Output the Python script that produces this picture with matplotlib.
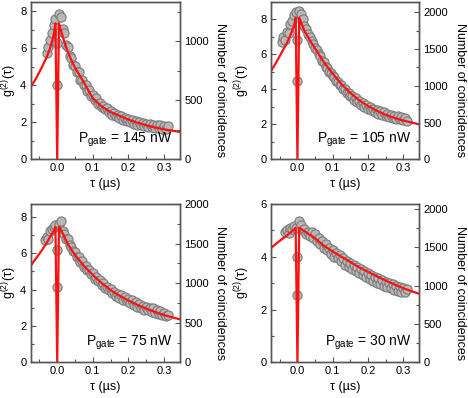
import numpy as np
import matplotlib
matplotlib.use("Agg")
import matplotlib.pyplot as plt
from matplotlib.ticker import MultipleLocator

plt.rcParams['font.family'] = ['Liberation Sans', 'DejaVu Sans']
plt.rcParams['mathtext.fontset'] = 'custom'
plt.rcParams['mathtext.rm'] = 'Liberation Sans'
plt.rcParams['mathtext.it'] = 'Liberation Sans:italic'

nan = float('nan')

# ---- data -----------------------------------------------------------
tau = [-0.045, -0.040, -0.035, -0.030, -0.025, -0.020, -0.015, -0.010, -0.005, 0.000,
       0.005, 0.010, 0.015, 0.020, 0.025, 0.030, 0.035, 0.040, 0.045, 0.050,
       0.055, 0.060, 0.065, 0.070, 0.075, 0.080, 0.085, 0.090, 0.095, 0.100,
       0.105, 0.110, 0.115, 0.120, 0.125, 0.130, 0.135, 0.140, 0.145, 0.150,
       0.155, 0.160, 0.165, 0.170, 0.175, 0.180, 0.185, 0.190, 0.195, 0.200,
       0.205, 0.210, 0.215, 0.220, 0.225, 0.230, 0.235, 0.240, 0.245, 0.250,
       0.255, 0.260, 0.265, 0.270, 0.275, 0.280, 0.285, 0.290, 0.295, 0.300,
       0.305, 0.310]

g_145 = [nan, nan, nan, 5.75, 6.05, 6.45, 6.85, 7.25, 7.6, 4.0,
         7.85, 7.7, 7.05, 6.8, 6.2, 6.05, 5.6, 5.5, 5.1, 5.05,
         4.7, 4.7, 4.3, 4.3, 4.0, 4.0, 3.7, 3.75, 3.4, 3.45,
         3.2, 3.3, 3.0, 3.05, 2.85, 2.9, 2.7, 2.78, 2.55, 2.62,
         2.42, 2.52, 2.33, 2.42, 2.22, 2.33, 2.15, 2.25, 2.05, 2.18,
         2.0, 2.12, 1.93, 2.06, 1.88, 2.0, 1.84, 1.96, 1.8, 1.92,
         1.76, 1.9, 1.73, 1.88, 1.7, 1.86, 1.68, 1.84, 1.65, 1.82,
         1.62, 1.78]

g_105 = [6.7, 7.0, 6.85, 7.3, 7.2, 7.75, 7.9, 8.25, 8.45, 4.5,
         8.5, 8.3, 8.0, 7.65, 7.45, 7.15, 7.0, 6.75, 6.6, 6.35,
         6.25, 6.0, 5.9, 5.65, 5.55, 5.3, 5.25, 5.0, 4.95, 4.75,
         4.7, 4.5, 4.45, 4.25, 4.25, 4.02, 4.02, 3.8, 3.82, 3.6,
         3.65, 3.42, 3.48, 3.28, 3.35, 3.12, 3.22, 3.0, 3.1, 2.9,
         3.0, 2.8, 2.9, 2.7, 2.82, 2.62, 2.75, 2.55, 2.7, 2.5,
         2.62, 2.42, 2.55, 2.36, 2.5, 2.32, 2.45, 2.28, 2.42, 2.24,
         2.38, 2.2]

g_75 = [nan, nan, 6.7, 6.9, 6.75, 7.2, 7.35, 7.45, 7.55, 4.15,
        7.6, 7.75, 7.2, 7.05, 6.8, 6.75, 6.45, 6.35, 6.1, 6.05,
        5.8, 5.8, 5.5, 5.55, 5.25, 5.3, 5.05, 5.1, 4.85, 4.9,
        4.6, 4.7, 4.45, 4.5, 4.25, 4.35, 4.1, 4.15, 3.95, 4.02,
        3.8, 3.88, 3.65, 3.78, 3.55, 3.68, 3.45, 3.58, 3.35, 3.5,
        3.25, 3.4, 3.15, 3.32, 3.05, 3.22, 2.98, 3.12, 2.9, 3.05,
        2.85, 2.98, 2.78, 3.0, 2.72, 2.88, 2.68, 2.8, 2.6, 2.72,
        2.52, 2.62]

g_30 = [nan, nan, 4.95, 5.0, 4.9, 5.1, 5.05, 5.15, 5.1, 2.55,
        5.35, 5.2, 5.0, 5.05, 4.85, 4.95, 4.8, 4.95, 4.7, 4.85,
        4.6, 4.7, 4.5, 4.6, 4.35, 4.5, 4.25, 4.35, 4.1, 4.25,
        4.0, 4.15, 3.95, 4.05, 3.85, 3.95, 3.7, 3.85, 3.62, 3.75,
        3.55, 3.68, 3.45, 3.6, 3.4, 3.52, 3.3, 3.45, 3.22, 3.4,
        3.15, 3.32, 3.08, 3.25, 3.02, 3.18, 2.95, 3.12, 2.9, 3.05,
        2.85, 3.0, 2.8, 2.95, 2.75, 2.9, 2.72, 2.85, 2.68, 2.82,
        2.65, 2.78]

# extra points recorded in the zero-delay bin
tau_zero = [0.0]
g_zero_145 = [6.3]
g_zero_105 = [6.8]
g_zero_75 = [6.15]
g_zero_30 = [3.98]

# fitted curves
fit_tau = [-0.075, -0.06, -0.045, -0.03, -0.02, -0.01, -0.005, 0.0, 0.005, 0.01,
           0.02, 0.03, 0.04, 0.05, 0.075, 0.1, 0.125, 0.15, 0.175, 0.2,
           0.225, 0.25, 0.275, 0.3, 0.325, 0.345]
fit_145 = [3.9, 4.35, 4.9, 5.5, 6.0, 6.7, 7.35, 0.0, 7.35, 7.0,
           6.35, 5.8, 5.35, 4.95, 4.15, 3.3, 2.85, 2.55, 2.35, 2.15,
           1.98, 1.84, 1.72, 1.62, 1.54, 1.48]
fit_105 = [5.05, 5.55, 6.1, 6.65, 7.1, 7.6, 8.1, 0.0, 8.1, 7.85,
           7.35, 7.0, 6.65, 6.35, 5.55, 4.9, 4.3, 3.8, 3.38, 3.05,
           2.78, 2.55, 2.37, 2.22, 2.1, 2.0]
fit_75 = [5.3, 5.7, 6.1, 6.55, 6.9, 7.2, 7.45, 0.0, 7.45, 7.3,
          6.9, 6.5, 6.18, 5.9, 5.3, 4.8, 4.35, 3.97, 3.66, 3.4,
          3.16, 2.95, 2.77, 2.6, 2.46, 2.36]
fit_30 = [4.33, 4.5, 4.66, 4.8, 4.92, 5.03, 5.1, 0.0, 5.1, 5.05,
          4.97, 4.88, 4.8, 4.7, 4.42, 4.2, 4.0, 3.8, 3.6, 3.43,
          3.26, 3.1, 2.95, 2.81, 2.69, 2.6]

powers = ['145', '105', '75', '30']
g_left_max = [8.5, 9.0, 8.7, 6.0]
g_left_step = [2, 2, 2, 2]
count_max = [1333, 2140, 2000, 2065]
count_major = [500, 500, 500, 500]

# ---- figure ---------------------------------------------------------
W, H = 468, 398
fig = plt.figure(figsize=(W / 100, H / 100), dpi=100)

boxes = [(30.5, 2, 180, 159.3), (271, 2, 419, 159.3),
         (30.5, 204, 180, 362.3), (271, 204, 419, 362.3)]
left_label_x = [9, 242, 9, 242]
right_label_x = [220, 460, 220, 460]

gdata = [g_145, g_105, g_75, g_30]
gzero = [g_zero_145, g_zero_105, g_zero_75, g_zero_30]
fits = [fit_145, fit_105, fit_75, fit_30]

spine_col = '#555555'
mk = dict(ms=6.6, mfc='#b8b8b8', mec='#7a7a7a', mew=0.8, zorder=2, ls='none', marker='o')
for i in range(4):
    x0, y0, x1, y1 = boxes[i]
    wpx = x1 - x0
    ax = fig.add_axes([x0 / W, 1 - y1 / H, wpx / W, (y1 - y0) / H])
    ax.plot(tau, gdata[i], **mk)
    ax.plot(tau_zero, gzero[i], **mk)
    ax.plot(fit_tau, fits[i], '-', color='#ff1010', lw=1.6, zorder=3)
    ax.set_xlim(-0.075, 0.345)
    ax.set_ylim(0, g_left_max[i])
    ax.xaxis.set_major_locator(MultipleLocator(0.1))
    ax.xaxis.set_minor_locator(MultipleLocator(0.05))
    ax.yaxis.set_major_locator(MultipleLocator(g_left_step[i]))
    ax.yaxis.set_minor_locator(MultipleLocator(g_left_step[i] / 2))
    ax.xaxis.set_major_formatter(matplotlib.ticker.FormatStrFormatter('%.1f'))
    ax.tick_params(which='both', direction='in', labelsize=8, color=spine_col, pad=3)
    ax.tick_params(which='major', length=3.5, width=0.8)
    ax.tick_params(which='minor', length=2, width=0.8)
    ax.set_xlabel('τ (µs)', fontsize=9, labelpad=3)
    ax.set_ylabel(r'g$^{(2)}$(τ)', fontsize=9)
    ax.yaxis.set_label_coords((left_label_x[i] - x0) / wpx, 0.5)
    ax.yaxis.label.set_va('center')
    for s in ax.spines.values():
        s.set_color(spine_col)
        s.set_linewidth(1.0)
    ax.text(0.95, 0.065, r'P$_{\mathrm{gate}}$ = ' + powers[i] + ' nW',
            transform=ax.transAxes, ha='right', va='bottom', fontsize=10)

    ax2 = ax.twinx()
    ax2.set_ylim(0, count_max[i])
    ax2.yaxis.set_major_locator(MultipleLocator(count_major[i]))
    ax2.yaxis.set_minor_locator(MultipleLocator(count_major[i] / 2))
    ax2.tick_params(which='both', direction='in', labelsize=8, color=spine_col, pad=3)
    ax2.tick_params(which='major', length=3.5, width=0.8)
    ax2.tick_params(which='minor', length=2, width=0.8)
    ax2.set_ylabel('Number of coincidences', fontsize=9, rotation=270)
    ax2.yaxis.set_label_coords((right_label_x[i] - x0) / wpx, 0.44)
    ax2.yaxis.label.set_va('center')
    ax2.yaxis.label.set_ha('center')
    ax2.yaxis.label.set_rotation_mode('anchor')
    for s in ax2.spines.values():
        s.set_color(spine_col)
        s.set_linewidth(1.0)

fig.savefig('out.png', dpi=100)
